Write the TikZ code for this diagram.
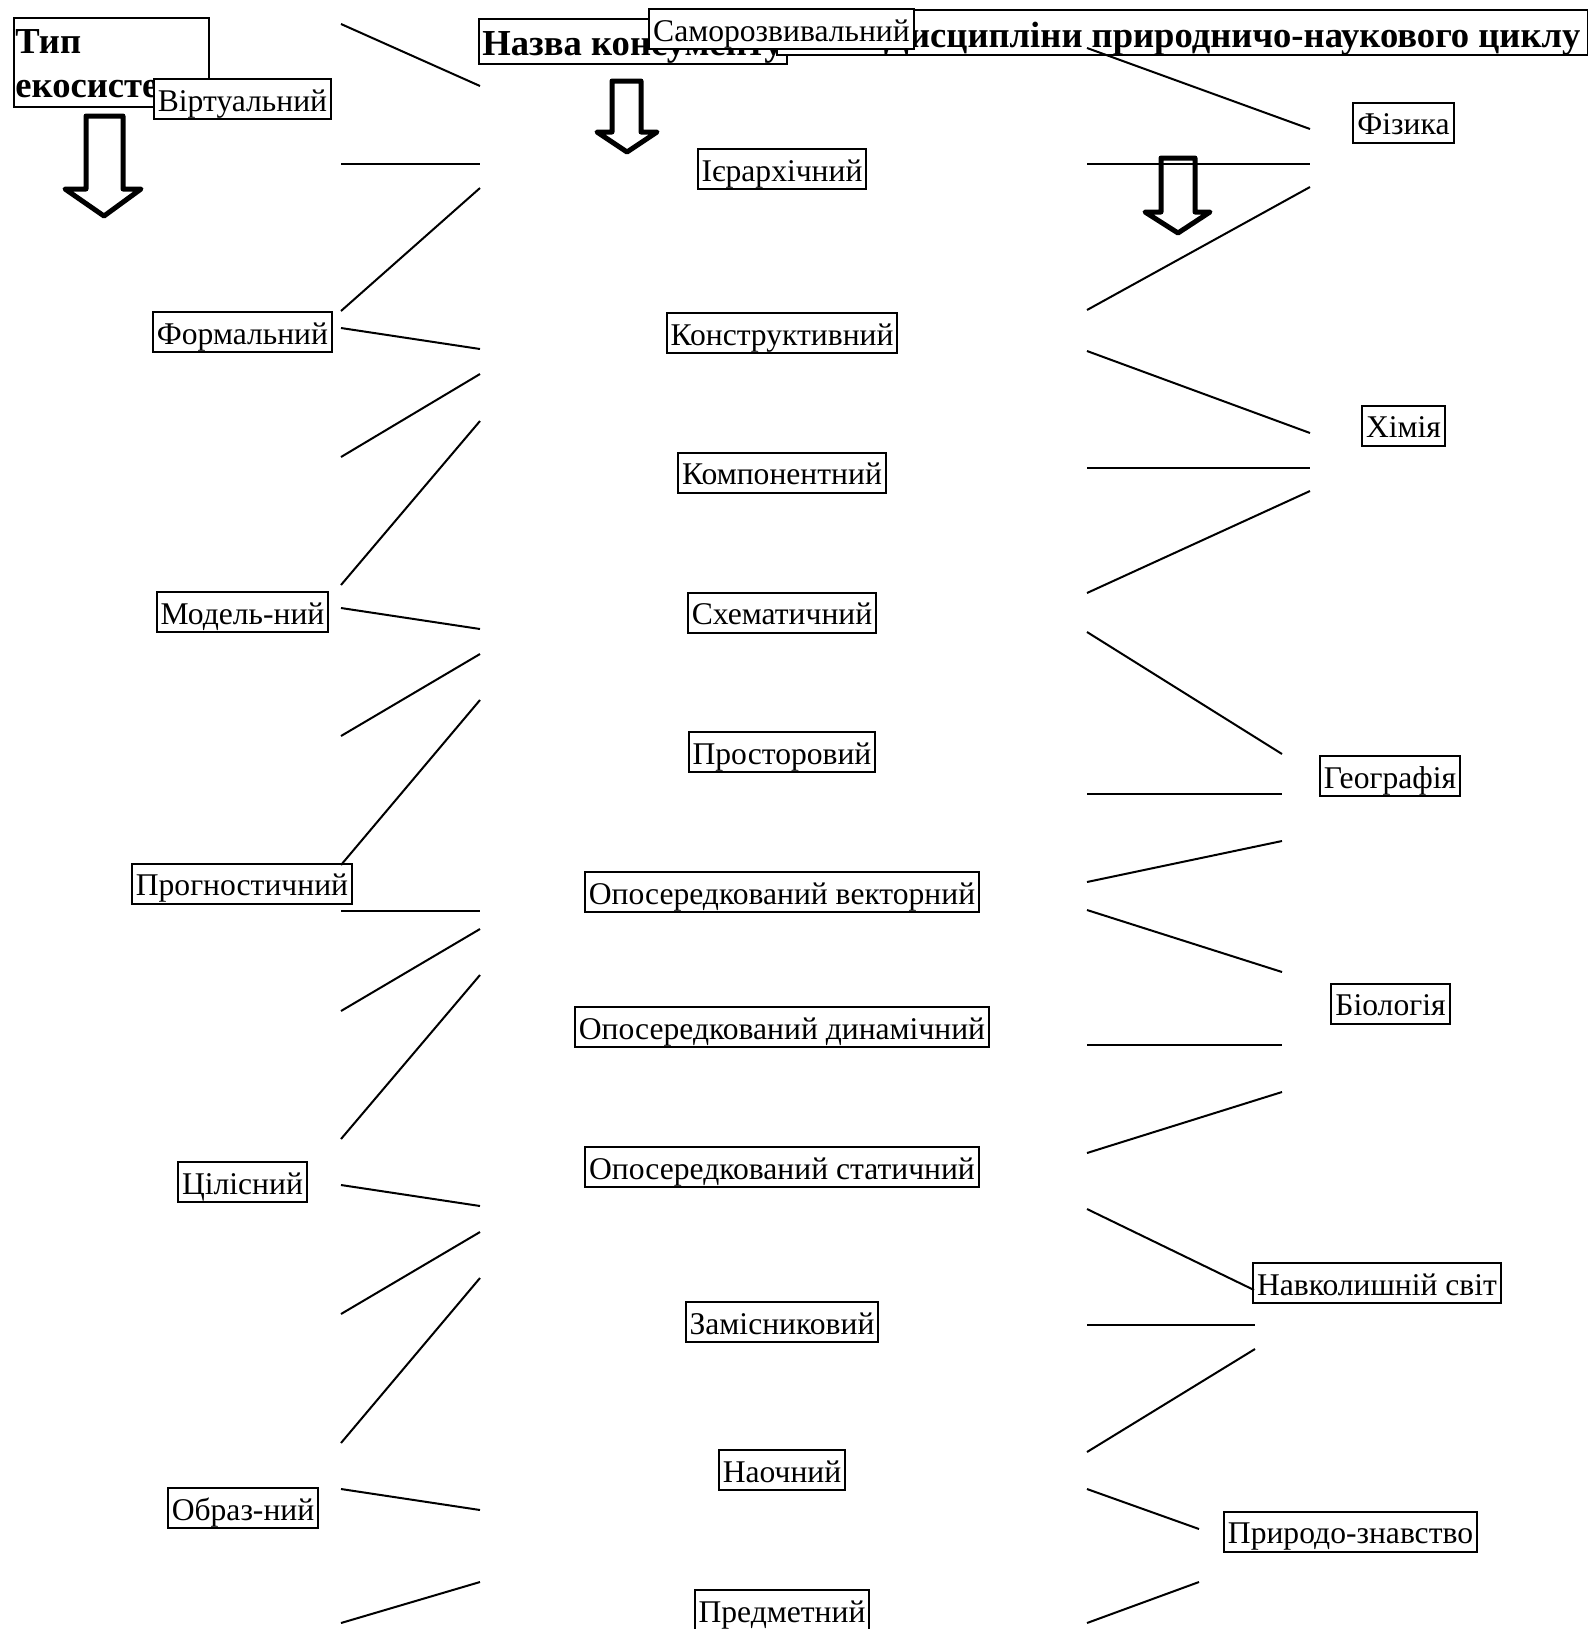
\documentclass[tikz,border=0pt]{standalone}
\usepackage{fontspec}
\setmainfont{Liberation Serif}
\begin{document}
\begin{tikzpicture}[x=0.5pt,y=-0.5pt,
  lbl/.style={draw, line width=1pt, fill=white, font=\fontsize{15.8}{18}\selectfont,
    minimum height=20pt, inner ysep=0pt, inner xsep=2pt, text height=13pt, text depth=1pt},
  hbox/.style={draw, line width=1pt, fill=white, inner sep=0pt, anchor=north west},
  htext/.style={font=\fontsize{18.3}{22}\selectfont\bfseries, inner sep=0pt},
  conn/.style={line width=1pt},
  barrow/.style={line width=2.5pt, line join=round}]
\useasboundingbox (0,0) rectangle (1588,1629);

% heading boxes
\node[hbox, minimum width=97.5pt, minimum height=44.5pt] (tipbox) at (13,17) {};
\node[htext, anchor=base west] (tip1) at (15,53) {Тип};
\node[htext, anchor=base west] (tip2) at (15,97) {екосистеми};
\node[hbox, minimum width=154pt, minimum height=22.5pt] (nazvabox) at (478,18) {};
\node[htext, anchor=base west] (nazva) at (482,55) {Назва консументу};
\node[hbox, minimum width=405.5pt, minimum height=22.5pt] (dyscbox) at (776,9) {};
\node[htext, anchor=base east] (dysc) at (1581,47) {Дисципліни природничо-наукового циклу};

% left column
\node[lbl] (virt) at (242.5,99) {Віртуальний};
\node[lbl] (form) at (242.5,332) {Формальний};
\node[lbl] (model) at (242.5,612) {Модель-ний};
\node[lbl] (progn) at (242,883.5) {Прогностичний};
\node[lbl] (tsil) at (242.5,1182) {Цілісний};
\node[lbl] (obraz) at (243,1508) {Образ-ний};

% middle column
\node[lbl] (samo) at (781.5,29) {Саморозвивальний};
\node[lbl] (ier) at (782,169) {Ієрархічний};
\node[lbl] (konstr) at (782,333) {Конструктивний};
\node[lbl] (komp) at (782,472.5) {Компонентний};
\node[lbl] (shem) at (782,612.5) {Схематичний};
\node[lbl] (prost) at (782,752) {Просторовий};
\node[lbl] (opvek) at (782,892) {Опосередкований векторний};
\node[lbl] (opdyn) at (782,1027) {Опосередкований динамічний};
\node[lbl] (opstat) at (782,1167) {Опосередкований статичний};
\node[lbl] (zamis) at (782,1322) {Замісниковий};
\node[lbl] (naoch) at (782,1470) {Наочний};
\node[lbl] (predm) at (782,1610) {Предметний};

% right column
\node[lbl] (fiz) at (1403.5,122.5) {Фізика};
\node[lbl] (chim) at (1403.5,425.5) {Хімія};
\node[lbl] (geo) at (1390,776) {Географія};
\node[lbl] (bio) at (1390.5,1003.5) {Біологія};
\node[lbl] (navk) at (1377,1283) {Навколишній світ};
\node[lbl] (pryr) at (1350.5,1531.5) {Природо-знавство};

% block arrows
\draw[barrow] (86,116) -- (123,116) -- (123,189) -- (141,189) -- (104,216) -- (65,189) -- (86,189) -- cycle;
\draw[barrow] (612,81) -- (641,81) -- (641,132) -- (657,132) -- (627,152) -- (597,132) -- (612,132) -- cycle;
\draw[barrow] (1161,158) -- (1195,158) -- (1195,212) -- (1210,212) -- (1178,233) -- (1145,212) -- (1161,212) -- cycle;

% left connectors
\foreach \i/\ay/\by in {1/24/86, 2/164/164, 3/311/188, 4/328/349, 5/457/374, 6/585/421,
  7/608/629, 8/736/654, 9/865/700, 10/911/911, 11/1011/929, 12/1139/975,
  13/1185/1206, 14/1314/1232, 15/1443/1278, 16/1489/1510, 17/1623/1582} {
  \coordinate (la\i) at (341,\ay);
  \coordinate (lb\i) at (480,\by);
  \draw[conn] (la\i) -- (lb\i);
}

% right connectors
\foreach \i/\ay/\bx/\by in {1/48/1310/129, 2/164/1310/164, 3/310/1310/187, 4/351/1310/433,
  5/468/1310/468, 6/593/1310/491, 7/632/1282/754, 8/794/1282/794, 9/882/1282/841,
  10/910/1282/972, 11/1045/1282/1045, 12/1153/1282/1092, 13/1209/1254/1290,
  14/1325/1255/1325, 15/1452/1255/1349, 16/1489/1199/1529, 17/1623/1199/1582} {
  \coordinate (ra\i) at (1087,\ay);
  \coordinate (rb\i) at (\bx,\by);
  \draw[conn] (ra\i) -- (rb\i);
}
\end{tikzpicture}
\end{document}
